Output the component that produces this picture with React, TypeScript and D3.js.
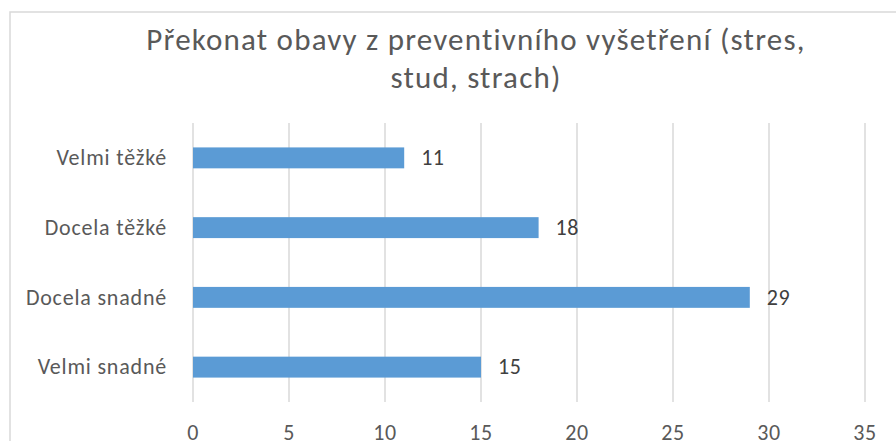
import * as d3 from 'd3';

const categories = ['Velmi těžké', 'Docela těžké', 'Docela snadné', 'Velmi snadné'];
const values = [11, 18, 29, 15];
const xTicks = [0, 5, 10, 15, 20, 25, 30, 35];
const titleLines = ['Překonat obavy z preventivního vyšetření (stres,', 'stud, strach)'];

const W = 896;
const H = 441;
const FONT = 'Carlito, Calibri, Lato, "Open Sans", sans-serif';

export default function App() {
  const x = d3.scaleLinear().domain([0, 35]).range([193, 865]);
  const y = d3.scaleBand().domain(categories).range([123, 402]).paddingInner(0.7).paddingOuter(0.35);

  return (
    <svg
      width={W}
      height={H}
      style={{ position: 'absolute', left: 0, top: 0, background: '#fff' }}
      fontFamily={FONT}
    >
      {/* chart area border */}
      <rect x={10} y={12} width={W + 20} height={H + 20} fill="#fff" stroke="#d9d9d9" strokeWidth={1.5} />

      {titleLines.map((t, i) => (
        <text key={t} x={476} y={50 + i * 38} textAnchor="middle" fontSize={31} letterSpacing={1.2} fill="#595959">
          {t}
        </text>
      ))}

      {xTicks.map(t => (
        <g key={t}>
          <line x1={x(t)} x2={x(t)} y1={123} y2={402} stroke="#d9d9d9" strokeWidth={1.5} />
          <text x={x(t)} y={440} textAnchor="middle" fontSize={22} letterSpacing={0.5} fill="#595959">{t}</text>
        </g>
      ))}

      {categories.map((c, i) => {
        const yy = y(c) ?? 0;
        const cy = yy + y.bandwidth() / 2;
        return (
          <g key={c}>
            <rect x={x(0)} y={yy} width={x(values[i]) - x(0)} height={y.bandwidth()} fill="#5b9bd5" />
            <text x={167} y={cy} dy="0.33em" textAnchor="end" fontSize={22} letterSpacing={0.8} fill="#595959">{c}</text>
            <text x={x(values[i]) + 17} y={cy} dy="0.33em" fontSize={22} letterSpacing={0.5} fill="#404040">{values[i]}</text>
          </g>
        );
      })}
    </svg>
  );
}
